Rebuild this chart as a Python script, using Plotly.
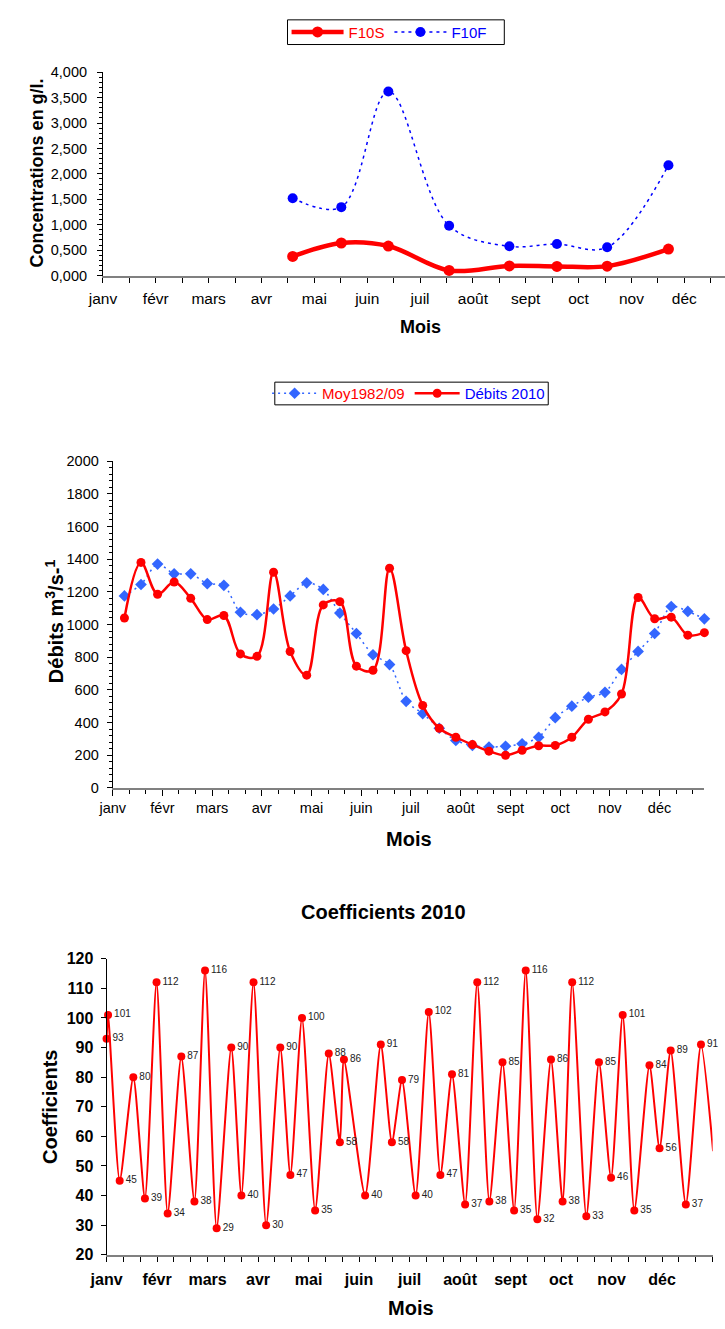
import plotly.graph_objects as go

W, H = 725, 1329
FONT = "Liberation Sans, Arial, sans-serif"

mois = ["janv", "févr", "mars", "avr", "mai", "juin", "juil", "août", "sept", "oct", "nov", "déc"]

# ---- Chart 1 : concentrations (position in months from 1 Jan)
conc_pos = [3.59, 4.51, 5.40, 6.55, 7.69, 8.59, 9.54, 10.70]
f10s = [0.375, 0.64, 0.58, 0.10, 0.19, 0.18, 0.185, 0.52]
f10f = [1.52, 1.345, 3.62, 0.98, 0.575, 0.62, 0.555, 2.17]

# ---- Chart 2 : débits by decade (36 decades)
moy = [1175, 1245, 1370, 1310, 1310, 1250, 1240, 1075, 1060, 1095, 1175, 1255,
       1215, 1070, 945, 815, 755, 530, 455, 365, 290, 260, 250, 255,
       270, 310, 430, 500, 555, 585, 725, 835, 945, 1110, 1080, 1035]
debits = [1040, 1380, 1185, 1260, 1160, 1030, 1055, 820, 805, 1320, 835, 690,
          1120, 1140, 745, 720, 1345, 840, 505, 365, 310, 265, 225, 200,
          230, 258, 260, 310, 420, 465, 575, 1165, 1035, 1045, 935, 950]
decade_offset = 0.236  # month position of first decade point

# ---- Chart 3 : coefficients (position in months)
coef_pos = [0.00, 0.03, 0.26, 0.53, 0.76, 0.99, 1.21, 1.48, 1.74, 1.95, 2.18, 2.47,
            2.67, 2.91, 3.16, 3.44, 3.64, 3.87, 4.13, 4.40, 4.62, 4.70, 5.12, 5.43,
            5.65, 5.85, 6.12, 6.38, 6.61, 6.84, 7.10, 7.34, 7.58, 7.84, 8.07, 8.30,
            8.53, 8.80, 9.03, 9.22, 9.50, 9.75, 9.99, 10.22, 10.45, 10.75, 10.95, 11.17,
            11.47, 11.77, 12.01]
coef = [93, 101, 45, 80, 39, 112, 34, 87, 38, 116, 29, 90,
        40, 112, 30, 90, 47, 100, 35, 88, 58, 86, 40, 91,
        58, 79, 40, 102, 47, 81, 37, 112, 38, 85, 35, 116,
        32, 86, 38, 112, 33, 85, 46, 101, 35, 84, 56, 89,
        37, 91, 55]

dec_x = [decade_offset + i / 3 for i in range(len(debits))]


def px_x(p):
    return p / W


def px_y(p):
    return 1 - p / H


fig = go.Figure()

# Chart 1 traces
fig.add_trace(go.Scatter(
    x=conc_pos, y=f10s, xaxis="x", yaxis="y", mode="lines+markers",
    name="<span style='color:#FF0000'>F10S</span>",
    line=dict(color="#FF0000", width=4.5, shape="spline", smoothing=1.0),
    marker=dict(color="#FF0000", size=11), legend="legend", cliponaxis=False))
fig.add_trace(go.Scatter(
    x=conc_pos, y=f10f, xaxis="x", yaxis="y", mode="lines+markers",
    name="<span style='color:#0000FF'>F10F</span>",
    line=dict(color="#0000FF", width=1.5, dash="3px,4px", shape="spline", smoothing=1.0),
    marker=dict(color="#0000FF", size=10), legend="legend", cliponaxis=False))

# Chart 2 traces
fig.add_trace(go.Scatter(
    x=dec_x, y=moy, xaxis="x2", yaxis="y2", mode="lines+markers",
    name="<span style='color:#FF0000'>Moy1982/09</span>",
    line=dict(color="#3366FF", width=1.5, dash="2px,4px", shape="spline", smoothing=0.8),
    marker=dict(color="#3366FF", size=9, symbol="diamond"), legend="legend2", cliponaxis=False))
fig.add_trace(go.Scatter(
    x=dec_x, y=debits, xaxis="x2", yaxis="y2", mode="lines+markers",
    name="<span style='color:#0000FF'>Débits 2010</span>",
    line=dict(color="#FF0000", width=2.5, shape="spline", smoothing=1.0),
    marker=dict(color="#FF0000", size=9), legend="legend2", cliponaxis=False))

# Chart 3 trace
fig.add_trace(go.Scatter(
    x=coef_pos, y=coef, xaxis="x3", yaxis="y3", mode="lines+markers+text",
    text=[str(v) for v in coef], textposition="middle right",
    textfont=dict(family=FONT, size=10, color="#222222"),
    line=dict(color="#FF0000", width=2, shape="spline", smoothing=0.6),
    marker=dict(color="#FF0000", size=8), showlegend=False, cliponaxis=False))

axis_common = dict(showgrid=False, zeroline=False, showline=True, fixedrange=True)

layout = dict(
    width=W, height=H, margin=dict(l=0, r=0, t=0, b=0),
    paper_bgcolor="white", plot_bgcolor="white",
    separators=", ",
    font=dict(family=FONT, color="black"),
    # Chart 1
    xaxis=dict(**axis_common, domain=[px_x(88), 1.0], range=[0, 11.77], anchor="y",
               linecolor="#808080", linewidth=2,
               tickvals=list(range(12)), ticktext=mois, ticks="outside", ticklen=5,
               tickcolor="black", tickfont=dict(size=15.5, family=FONT),
               ticklabelstandoff=3,
               minor=dict(dtick=0.5, tick0=0, ticks="outside", ticklen=5, tickcolor="black")),
    yaxis=dict(**axis_common, domain=[px_y(271), px_y(65)], range=[0, 4], anchor="x",
               linecolor="black", linewidth=1, dtick=0.5, tickformat=".3f",
               ticks="outside", ticklen=5, tickcolor="black",
               tickfont=dict(size=14.5, family=FONT), ticklabelstandoff=7,
               minor=dict(dtick=0.1, ticks="outside", ticklen=3, tickcolor="black")),
    # Chart 2
    xaxis2=dict(**axis_common, domain=[px_x(98), px_x(704)], range=[0, 11.905], anchor="y2",
                linecolor="#808080", linewidth=2,
                tickvals=list(range(12)), ticktext=mois, ticks="outside", ticklen=6,
                tickcolor="black", tickfont=dict(size=14.5, family=FONT),
                ticklabelstandoff=0,
                minor=dict(dtick=1 / 3, tick0=0, ticks="outside", ticklen=4, tickcolor="black")),
    yaxis2=dict(**axis_common, domain=[px_y(790), px_y(459)], range=[0, 2000], anchor="x2",
                linecolor="black", linewidth=1, dtick=200,
                ticks="outside", ticklen=5, tickcolor="black",
                tickfont=dict(size=14.5, family=FONT), ticklabelstandoff=5,
                minor=dict(dtick=40, ticks="outside", ticklen=3, tickcolor="black")),
    # Chart 3
    xaxis3=dict(**axis_common, domain=[px_x(91.7), px_x(712.3)], range=[0, 12.0], anchor="y3",
                linecolor="#808080", linewidth=2,
                tickvals=list(range(12)), ticktext=mois, ticks="outside", ticklen=5,
                tickcolor="black", tickfont=dict(size=16, family=FONT, weight="bold"),
                ticklabelstandoff=4,
                minor=dict(dtick=1 / 3, tick0=0, ticks="outside", ticklen=5, tickcolor="black")),
    yaxis3=dict(**axis_common, domain=[px_y(1263), px_y(963)], range=[20, 120], anchor="x3",
                linecolor="black", linewidth=1, dtick=10,
                ticks="outside", ticklen=5, tickcolor="black",
                tickfont=dict(size=16, family=FONT, weight="bold"), ticklabelstandoff=4),
    legend=dict(orientation="h", x=px_x(381), y=px_y(24.5), xanchor="center", yanchor="middle",
                bordercolor="rgba(0,0,0,0)", borderwidth=0, bgcolor="rgba(0,0,0,0)",
                font=dict(size=15, family=FONT), itemwidth=52, tracegroupgap=0),
    legend2=dict(orientation="h", x=px_x(401), y=px_y(390.5), xanchor="center", yanchor="middle",
                 bordercolor="rgba(0,0,0,0)", borderwidth=0, bgcolor="rgba(0,0,0,0)",
                 font=dict(size=15, family=FONT), itemwidth=45, tracegroupgap=0),
)
fig.update_layout(**layout)

# legend frames
for (x0, y0, x1, y1) in [(277, 12, 499, 37), (264, 379, 544, 402)]:
    fig.add_shape(type="rect", xref="paper", yref="paper",
                  x0=px_x(x0), x1=px_x(x1), y0=px_y(y1), y1=px_y(y0),
                  line=dict(color="black", width=1), fillcolor="rgba(0,0,0,0)", layer="above")

annots = [
    # chart 1
    dict(text="<b>Concentrations en g/l.</b>", x=px_x(20), y=px_y(167), textangle=-90, size=18),
    dict(text="<b>Mois</b>", x=px_x(413), y=px_y(323), textangle=0, size=18),
    # chart 2
    dict(text="<b>Débits m<sup>3</sup>/s-<sup>1</sup></b>", x=px_x(38), y=px_y(621), textangle=-90, size=20),
    dict(text="<b>Mois</b>", x=px_x(401), y=px_y(842), textangle=0, size=20),
    # chart 3
    dict(text="<b>Coefficients 2010</b>", x=px_x(375), y=px_y(916), textangle=0, size=20),
    dict(text="<b>Coefficients</b>", x=px_x(34), y=px_y(1113), textangle=-90, size=20),
    dict(text="<b>Mois</b>", x=px_x(403), y=px_y(1317), textangle=0, size=20),
]
for a in annots:
    fig.add_annotation(text=a["text"], x=a["x"], y=a["y"], xref="paper", yref="paper",
                       xanchor="center", yanchor="middle", showarrow=False,
                       textangle=a["textangle"],
                       font=dict(family=FONT, size=a["size"], color="black"))

fig.write_html("out.html", config={"displayModeBar": False})
